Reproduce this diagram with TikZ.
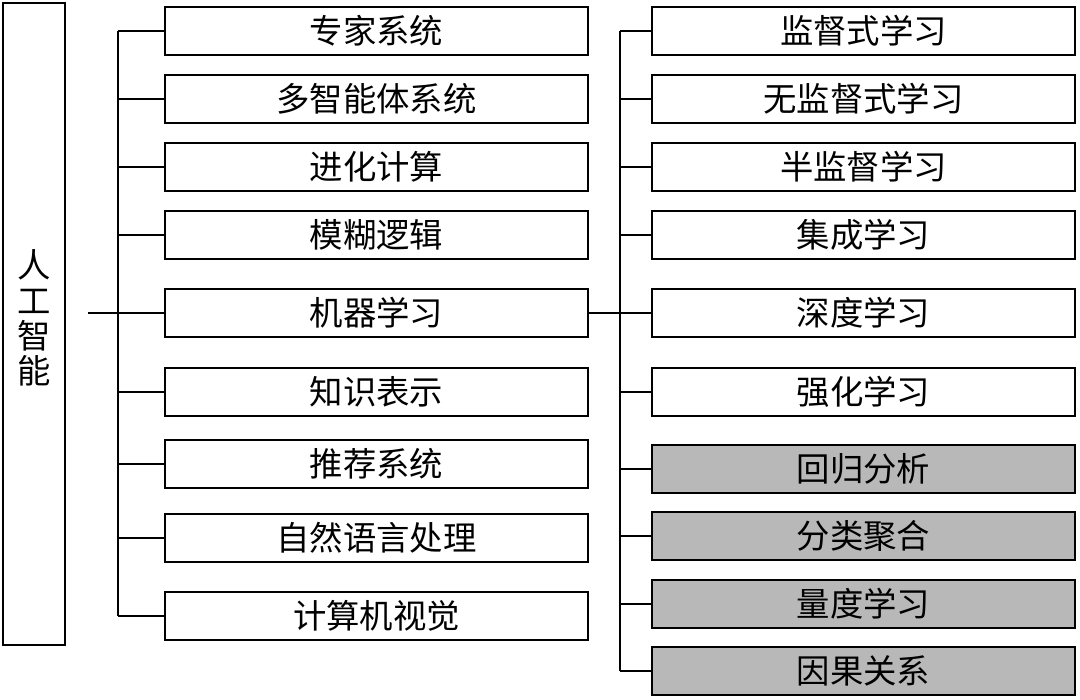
\documentclass[tikz,border=0pt]{standalone}
\usepackage{fontspec}
\setmainfont{Noto Sans CJK SC}
\usetikzlibrary{positioning}
\tikzset{
  ai box/.style={draw, line width=1.2pt, minimum width=8.46cm, minimum height=0.96cm,
    inner sep=0pt, font=\fontsize{19}{22}\selectfont},
  ml box/.style={ai box},
  grey box/.style={ai box, fill=black!28},
  link/.style={line width=1pt}
}
\begin{document}
\begin{tikzpicture}[x=0.02cm, y=-0.02cm]
    \useasboundingbox (0,0) rectangle (1080,700);

    \node[draw, line width=1.2pt, minimum width=1.24cm, minimum height=12.84cm,
      inner sep=0pt] (ai) at (34,324) {};
    \node[align=center, inner sep=0pt, font=\fontsize{19}{20}\selectfont]
      (aitxt) at (34,318) {人\\工\\智\\能};

    % middle column
    \foreach \name/\y/\txt in {a/31/专家系统, b/99/多智能体系统, c/167/进化计算,
      d/235/模糊逻辑, ml/313/机器学习, e/392/知识表示, f/464/推荐系统,
      g/538/自然语言处理, h/616/计算机视觉}
    {\node[ai box] (\name) at (376.5,\y) {\txt};
     \draw[link] (118,\y) -- (\name.west);
    }
    \coordinate (trunk) at (88,313);
    \draw[link] (trunk) -- (118,313);
    \draw[link] (118,31) -- (118,616);

    % right column
    \foreach \name/\y/\txt/\sty in {r1/31/监督式学习/ml box, r2/99/无监督式学习/ml box,
      r3/167/半监督学习/ml box, r4/235/集成学习/ml box, r5/313/深度学习/ml box,
      r6/392/强化学习/ml box, r7/469/回归分析/grey box, r8/536/分类聚合/grey box,
      r9/604/量度学习/grey box, r10/671/因果关系/grey box}
    {\node[\sty] (\name) at (863.5,\y) {\txt};
     \draw[link] (620,\y) -- (\name.west);
    }
    \draw[link] (ml.east) -- (r5.west);
    \draw[link] (620,31) -- (620,671);
\end{tikzpicture}
\end{document}
